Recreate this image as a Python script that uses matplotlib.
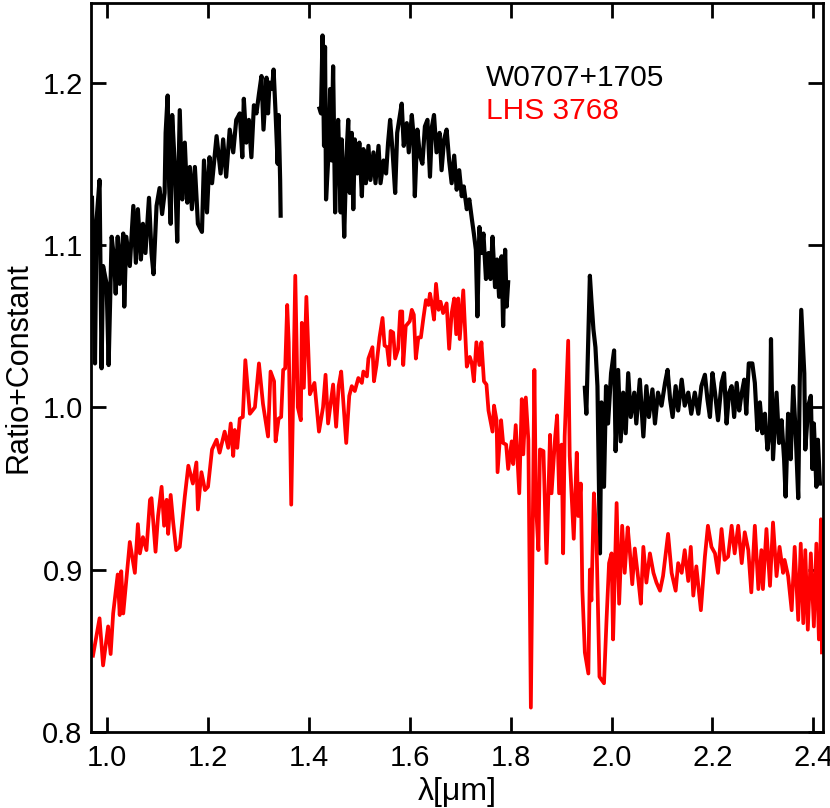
import numpy as np
import matplotlib.pyplot as plt

plt.rcParams['font.family'] = ['Liberation Sans', 'DejaVu Sans']

# W0707+1705, three pieces (telluric gaps left out)
w1_wave = [0.970, 0.976, 0.979, 0.985, 0.989, 0.992, 0.999, 1.003, 1.009, 1.014,
           1.017, 1.021, 1.025, 1.028, 1.032, 1.034, 1.038, 1.045, 1.052, 1.057,
           1.061, 1.067, 1.071, 1.076, 1.083, 1.088, 1.092, 1.098, 1.104, 1.109,
           1.114, 1.116, 1.120, 1.123, 1.126, 1.129, 1.134, 1.139, 1.144, 1.149,
           1.154, 1.159, 1.164, 1.168, 1.174, 1.180, 1.188, 1.192, 1.198, 1.203,
           1.208, 1.217, 1.225, 1.230, 1.236, 1.243, 1.250, 1.256, 1.263, 1.268,
           1.271, 1.276, 1.281, 1.286, 1.291, 1.296, 1.301, 1.306, 1.310, 1.316,
           1.319, 1.322, 1.327, 1.330, 1.334, 1.338, 1.340, 1.343, 1.344]
w1_flux = [1.129, 1.027, 1.115, 1.140, 1.024, 1.087, 1.076, 1.026, 1.105, 1.091,
           1.070, 1.105, 1.076, 1.093, 1.107, 1.062, 1.105, 1.087, 1.124, 1.089,
           1.122, 1.091, 1.113, 1.095, 1.129, 1.095, 1.082, 1.124, 1.135, 1.119,
           1.132, 1.169, 1.192, 1.136, 1.113, 1.180, 1.150, 1.102, 1.183, 1.128,
           1.163, 1.126, 1.148, 1.122, 1.148, 1.113, 1.108, 1.152, 1.120, 1.154,
           1.138, 1.167, 1.144, 1.165, 1.142, 1.171, 1.157, 1.177, 1.181, 1.154,
           1.190, 1.163, 1.177, 1.154, 1.186, 1.181, 1.193, 1.204, 1.171, 1.203,
           1.181, 1.200, 1.196, 1.208, 1.181, 1.150, 1.180, 1.140, 1.118]

w2_wave = [1.421, 1.424, 1.427, 1.430, 1.432, 1.434, 1.439, 1.442, 1.445, 1.448,
           1.452, 1.455, 1.458, 1.463, 1.465, 1.470, 1.474, 1.478, 1.481, 1.485,
           1.488, 1.491, 1.496, 1.500, 1.505, 1.508, 1.513, 1.518, 1.522, 1.528,
           1.532, 1.538, 1.542, 1.548, 1.553, 1.557, 1.561, 1.566, 1.571, 1.575,
           1.579, 1.584, 1.588, 1.594, 1.598, 1.604, 1.607, 1.610, 1.615, 1.620,
           1.625, 1.630, 1.635, 1.640, 1.644, 1.648, 1.653, 1.659, 1.663, 1.668,
           1.673, 1.678, 1.683, 1.688, 1.693, 1.698, 1.703, 1.707, 1.713, 1.718,
           1.723, 1.727, 1.731, 1.734, 1.738, 1.742, 1.746, 1.751, 1.756, 1.760,
           1.764, 1.769, 1.773, 1.777, 1.782, 1.785, 1.789, 1.792, 1.795]
w2_flux = [1.184, 1.181, 1.229, 1.161, 1.222, 1.128, 1.157, 1.196, 1.152, 1.210,
           1.120, 1.161, 1.177, 1.120, 1.165, 1.105, 1.152, 1.177, 1.132, 1.169,
           1.122, 1.165, 1.144, 1.163, 1.130, 1.159, 1.138, 1.161, 1.140, 1.157,
           1.138, 1.161, 1.138, 1.152, 1.144, 1.163, 1.177, 1.157, 1.132, 1.169,
           1.177, 1.187, 1.161, 1.175, 1.157, 1.180, 1.169, 1.130, 1.171, 1.155,
           1.150, 1.173, 1.177, 1.142, 1.173, 1.180, 1.157, 1.169, 1.146, 1.165,
           1.171, 1.152, 1.138, 1.155, 1.134, 1.146, 1.130, 1.136, 1.122, 1.128,
           1.116, 1.107, 1.097, 1.056, 1.111, 1.095, 1.107, 1.079, 1.095, 1.079,
           1.105, 1.074, 1.091, 1.068, 1.093, 1.050, 1.097, 1.062, 1.077]

w3_wave = [1.947, 1.950, 1.957, 1.960, 1.964, 1.968, 1.972, 1.977, 1.980, 1.985,
           1.989, 1.993, 1.999, 2.005, 2.008, 2.013, 2.018, 2.023, 2.028, 2.033,
           2.038, 2.045, 2.049, 2.056, 2.063, 2.069, 2.074, 2.081, 2.086, 2.092,
           2.099, 2.106, 2.111, 2.116, 2.121, 2.127, 2.132, 2.139, 2.145, 2.152,
           2.158, 2.165, 2.172, 2.178, 2.185, 2.190, 2.195, 2.200, 2.205, 2.211,
           2.218, 2.223, 2.228, 2.233, 2.238, 2.243, 2.248, 2.253, 2.257, 2.263,
           2.267, 2.272, 2.279, 2.284, 2.289, 2.294, 2.299, 2.304, 2.309, 2.314,
           2.316, 2.320, 2.327, 2.332, 2.337, 2.342, 2.345, 2.350, 2.355, 2.360,
           2.365, 2.370, 2.373, 2.376, 2.382, 2.384, 2.390, 2.395, 2.398, 2.401,
           2.406, 2.409, 2.413]
w3_flux = [1.012, 0.996, 1.081, 1.066, 1.048, 1.037, 1.013, 0.910, 1.003, 0.951,
           1.013, 0.990, 1.021, 1.035, 0.973, 1.023, 0.979, 1.009, 0.984, 1.021,
           0.994, 1.009, 0.990, 1.017, 0.982, 1.013, 0.994, 1.011, 0.990, 1.009,
           1.001, 1.015, 1.023, 1.005, 0.994, 1.013, 0.998, 1.017, 1.001, 1.009,
           0.996, 1.009, 0.996, 1.013, 1.020, 1.005, 0.994, 1.021, 1.009, 0.992,
           1.015, 1.021, 0.990, 1.009, 1.013, 0.994, 1.015, 0.998, 1.007, 1.017,
           0.996, 1.027, 1.027, 1.015, 0.986, 1.003, 0.984, 0.996, 0.974, 0.986,
           1.042, 0.968, 1.009, 0.978, 0.992, 0.968, 0.945, 0.996, 0.968, 1.013,
           0.984, 0.944, 1.015, 1.060, 1.021, 0.974, 1.001, 1.007, 0.962, 0.990,
           0.951, 0.980, 0.953]

# LHS 3768
lhs_wave = [0.972, 0.985, 0.992, 1.002, 1.007, 1.012, 1.021, 1.025, 1.028, 1.032,
            1.045, 1.055, 1.061, 1.065, 1.071, 1.078, 1.085, 1.088, 1.096, 1.101,
            1.108, 1.113, 1.118, 1.121, 1.126, 1.131, 1.137, 1.144, 1.154, 1.161,
            1.170, 1.177, 1.180, 1.187, 1.194, 1.200, 1.208, 1.217, 1.223, 1.233,
            1.240, 1.245, 1.250, 1.253, 1.258, 1.263, 1.269, 1.274, 1.283, 1.293,
            1.301, 1.309, 1.319, 1.324, 1.331, 1.334, 1.340, 1.345, 1.349, 1.353,
            1.357, 1.360, 1.365, 1.373, 1.378, 1.384, 1.386, 1.390, 1.395, 1.402,
            1.411, 1.420, 1.428, 1.433, 1.438, 1.448, 1.454, 1.459, 1.464, 1.474,
            1.480, 1.485, 1.491, 1.498, 1.505, 1.508, 1.515, 1.518, 1.526, 1.529,
            1.534, 1.540, 1.546, 1.550, 1.555, 1.559, 1.562, 1.567, 1.571, 1.577,
            1.581, 1.585, 1.587, 1.592, 1.600, 1.604, 1.608, 1.612, 1.617, 1.622,
            1.627, 1.632, 1.637, 1.640, 1.643, 1.648, 1.652, 1.657, 1.661, 1.666,
            1.673, 1.678, 1.683, 1.688, 1.692, 1.696, 1.699, 1.706, 1.713, 1.719,
            1.723, 1.727, 1.732, 1.738, 1.742, 1.747, 1.752, 1.756, 1.764, 1.767,
            1.772, 1.774, 1.781, 1.785, 1.791, 1.795, 1.802, 1.805, 1.810, 1.817,
            1.822, 1.825, 1.830, 1.835, 1.840, 1.847, 1.850, 1.855, 1.858, 1.865,
            1.871, 1.878, 1.881, 1.888, 1.892, 1.896, 1.901, 1.904, 1.907, 1.914,
            1.917, 1.925, 1.931, 1.934, 1.939, 1.942, 1.947, 1.954, 1.957, 1.960,
            1.965, 1.970, 1.976, 1.985, 1.990, 1.995, 2.000, 2.003, 2.010, 2.015,
            2.021, 2.026, 2.032, 2.036, 2.041, 2.046, 2.053, 2.058, 2.063, 2.069,
            2.076, 2.083, 2.089, 2.096, 2.102, 2.112, 2.119, 2.127, 2.132, 2.139,
            2.145, 2.152, 2.157, 2.162, 2.168, 2.177, 2.185, 2.191, 2.198, 2.205,
            2.211, 2.218, 2.224, 2.231, 2.238, 2.244, 2.251, 2.258, 2.264, 2.271,
            2.277, 2.284, 2.291, 2.297, 2.300, 2.307, 2.314, 2.320, 2.327, 2.333,
            2.340, 2.343, 2.350, 2.357, 2.363, 2.370, 2.375, 2.380, 2.384, 2.389,
            2.395, 2.401, 2.406, 2.411, 2.415, 2.417]
lhs_flux = [0.847, 0.870, 0.841, 0.865, 0.848, 0.873, 0.897, 0.872, 0.899, 0.873,
            0.917, 0.898, 0.928, 0.910, 0.920, 0.912, 0.943, 0.944, 0.911, 0.933,
            0.951, 0.927, 0.943, 0.922, 0.946, 0.929, 0.912, 0.914, 0.945, 0.964,
            0.953, 0.966, 0.937, 0.960, 0.949, 0.951, 0.974, 0.980, 0.972, 0.985,
            0.975, 0.990, 0.970, 0.986, 0.975, 0.993, 0.994, 1.029, 0.996, 1.000,
            1.027, 1.002, 0.982, 1.022, 1.016, 0.979, 0.993, 0.994, 1.023, 1.024,
            1.063, 1.040, 0.940, 1.081, 1.000, 0.992, 1.052, 1.012, 1.068, 1.008,
            1.015, 0.985, 1.000, 1.020, 0.990, 1.014, 0.988, 1.013, 1.022, 0.978,
            1.007, 1.013, 1.010, 1.018, 1.015, 1.022, 1.019, 1.030, 1.037, 1.016,
            1.026, 1.043, 1.055, 1.038, 1.037, 1.026, 1.047, 1.046, 1.030, 1.036,
            1.059, 1.059, 1.026, 1.050, 1.053, 1.060, 1.057, 1.030, 1.043, 1.043,
            1.055, 1.066, 1.063, 1.070, 1.065, 1.054, 1.076, 1.060, 1.065, 1.058,
            1.064, 1.036, 1.058, 1.067, 1.045, 1.067, 1.042, 1.072, 1.025, 1.031,
            1.027, 1.016, 1.040, 1.026, 1.040, 1.016, 1.014, 0.998, 0.985, 1.001,
            0.992, 0.960, 0.992, 0.978, 0.977, 0.962, 0.979, 0.965, 0.989, 0.947,
            1.005, 0.971, 1.006, 0.980, 0.815, 1.023, 0.941, 0.912, 0.974, 0.973,
            0.904, 0.983, 0.947, 0.981, 0.995, 0.947, 0.977, 0.910, 0.982, 1.041,
            0.970, 0.919, 0.972, 0.933, 0.953, 0.888, 0.849, 0.836, 0.900, 0.881,
            0.947, 0.920, 0.834, 0.830, 0.869, 0.904, 0.910, 0.857, 0.941, 0.879,
            0.927, 0.898, 0.926, 0.912, 0.891, 0.913, 0.894, 0.879, 0.914, 0.892,
            0.910, 0.898, 0.892, 0.887, 0.896, 0.922, 0.898, 0.887, 0.904, 0.898,
            0.912, 0.893, 0.914, 0.884, 0.902, 0.875, 0.908, 0.927, 0.914, 0.910,
            0.898, 0.925, 0.906, 0.908, 0.927, 0.910, 0.927, 0.904, 0.923, 0.912,
            0.886, 0.927, 0.888, 0.912, 0.888, 0.925, 0.890, 0.929, 0.896, 0.914,
            0.898, 0.906, 0.896, 0.875, 0.914, 0.869, 0.916, 0.867, 0.912, 0.863,
            0.910, 0.865, 0.916, 0.857, 0.931, 0.849]

fig = plt.figure(figsize=(8.3, 8.08), dpi=100)
ax = fig.add_axes([0.1096, 0.0941, 0.8819, 0.9022])

for wv, fl in [(w1_wave, w1_flux), (w2_wave, w2_flux), (w3_wave, w3_flux)]:
    ax.plot(wv, fl, color='black', lw=3.0)
ax.plot(lhs_wave, lhs_flux, color='#ff0000', lw=2.7)

ax.set_xlim(0.968, 2.419)
ax.set_ylim(0.8, 1.249)
ax.set_xticks([1.0, 1.2, 1.4, 1.6, 1.8, 2.0, 2.2, 2.4])
ax.set_yticks([0.8, 0.9, 1.0, 1.1, 1.2])
ax.xaxis.set_major_formatter(plt.FormatStrFormatter('%.1f'))
ax.yaxis.set_major_formatter(plt.FormatStrFormatter('%.1f'))
ax.tick_params(direction='in', length=11, width=2.0, labelsize=21,
               top=True, right=True)
ax.tick_params(axis='x', pad=9)
ax.tick_params(axis='y', pad=6)
for s in ax.spines.values():
    s.set_linewidth(2.0)

ax.set_xlabel('λ[μm]', fontsize=23, labelpad=3)
ax.set_ylabel('Ratio+Constant', fontsize=22, labelpad=6)

ax.text(0.540, 0.886, 'W0707+1705', transform=ax.transAxes, fontsize=21.5, color='black')
ax.text(0.540, 0.841, 'LHS 3768', transform=ax.transAxes, fontsize=21.5, color='#ff0000')

plt.savefig('out.png', dpi=100)
